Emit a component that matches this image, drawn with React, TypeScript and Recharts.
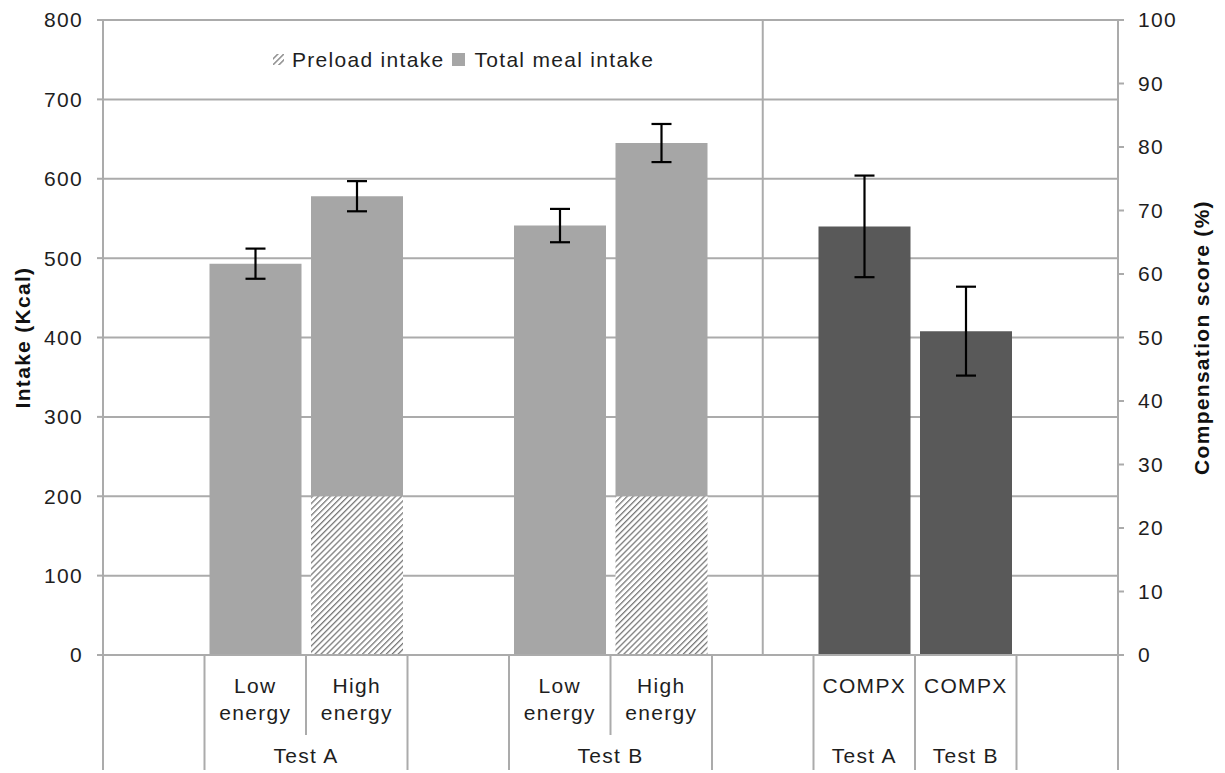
import React from 'react';
import {
  ComposedChart, Bar, XAxis, YAxis, CartesianGrid, ErrorBar, ReferenceLine, Legend,
} from 'recharts';

// ---- data ----
const categories = ['', 'Low energy', 'High energy', '', 'Low energy', 'High energy', '', 'COMPX', 'COMPX', ''];
const groups = ['', 'Test A', 'Test A', '', 'Test B', 'Test B', '', 'Test A', 'Test B', ''];
const totalIntake: (number | null)[] = [null, 493, 578, null, 541, 645, null, null, null, null];
const preloadIntake: (number | null)[] = [null, 0, 200, null, 0, 200, null, null, null, null];
const intakeErr: (number | null)[] = [null, 19, 19, null, 21, 24, null, null, null, null];
const compScore: (number | null)[] = [null, null, null, null, null, null, null, 67.5, 51, null];
const compErr: (number | null)[] = [null, null, null, null, null, null, null, 8, 7, null];
const intakeTicks = [0, 100, 200, 300, 400, 500, 600, 700, 800];
const compTicks = [0, 10, 20, 30, 40, 50, 60, 70, 80, 90, 100];
const blockDividerSlot = 6;

// ---- layout ----
const CHART_W = 1225;
const CHART_H = 773;
const LEFT_W = 103;
const RIGHT_W = 107;
const TOP = 20;
const X_H = 118;
const PLOT_W = CHART_W - LEFT_W - RIGHT_W;
const BAND = PLOT_W / categories.length;

const FONT = '"Liberation Sans", Arial, sans-serif';
const FS = 21;
const LS = 1.3;
const TEXT = '#1e1e1e';
const LINE = '#ababab';

const data = categories.map((c, i) => ({
  slot: i,
  category: c,
  group: groups[i],
  preload: preloadIntake[i],
  rest: totalIntake[i] == null ? null : (totalIntake[i] as number) - (preloadIntake[i] as number),
  intakeErr: intakeErr[i],
  comp: compScore[i],
  compErr: compErr[i],
}));

function CategoryTick(props: any) {
  const { x, y, payload } = props;
  const i: number = props.index ?? payload.index ?? payload.value;
  const left = x - BAND / 2;
  const right = x + BAND / 2;
  const shortSep = i > 0 && groups[i - 1] === groups[i] && groups[i] !== '';
  const words = categories[i] ? categories[i].split(' ') : [];
  let groupLabel: React.ReactNode = null;
  if (groups[i] && (i === 0 || groups[i - 1] !== groups[i])) {
    let n = 1;
    while (i + n < groups.length && groups[i + n] === groups[i]) n++;
    groupLabel = (
      <text x={x + ((n - 1) * BAND) / 2} y={y + 108} textAnchor="middle" fill={TEXT}
        fontSize={FS} fontFamily={FONT} letterSpacing={LS}>{groups[i]}</text>
    );
  }
  return (
    <g>
      <line x1={left} x2={left} y1={y} y2={y + (shortSep ? 80 : 115)} stroke={LINE} strokeWidth={2} />
      {i === categories.length - 1 && (
        <line x1={right} x2={right} y1={y} y2={y + 115} stroke={LINE} strokeWidth={2} />
      )}
      {words.map((w, k) => (
        <text key={k} x={x} y={y + 38 + k * 27} textAnchor="middle" fill={TEXT}
          fontSize={FS} fontFamily={FONT} letterSpacing={LS}>{w}</text>
      ))}
      {groupLabel}
    </g>
  );
}

function LegendContent() {
  return (
    <div style={{ display: 'flex', alignItems: 'center', fontFamily: FONT, fontSize: FS, letterSpacing: LS, color: TEXT, whiteSpace: 'nowrap' }}>
      <svg width={14} height={14} style={{ marginRight: 6 }}>
        <rect x={1} y={1} width={11} height={11} fill="url(#hatch)" />
      </svg>
      <span style={{ marginRight: 8 }}>Preload intake</span>
      <svg width={14} height={14} style={{ marginRight: 8 }}>
        <rect x={0} y={0} width={13} height={13} fill="#a6a6a6" />
      </svg>
      <span>Total meal intake</span>
    </div>
  );
}

function AxisTitle(props: any) {
  const { viewBox, value, dx } = props;
  const cx = viewBox.x + dx;
  const cy = viewBox.y + viewBox.height / 2;
  return (
    <text x={cx} y={cy} transform={`rotate(-90 ${cx} ${cy})`} textAnchor="middle" dominantBaseline="central"
      fill="#111" fontSize={FS} fontWeight="bold" fontFamily={FONT} letterSpacing={LS}>{value}</text>
  );
}

export default function App() {
  return (
    <div style={{ position: 'absolute', left: 0, top: 0, background: '#fff' }}>
      <ComposedChart width={CHART_W} height={CHART_H} data={data}
        margin={{ top: TOP, right: 0, left: 0, bottom: 0 }} barCategoryGap={5} barGap={0}>
        <defs>
          <pattern id="hatch" patternUnits="userSpaceOnUse" width={4.2} height={4.2} patternTransform="rotate(45)">
            <rect x={0} y={0} width={4.2} height={4.2} fill="#ffffff" />
            <line x1={0} y1={0} x2={0} y2={4.2} stroke="#7a7a7a" strokeWidth={2.6} />
          </pattern>
        </defs>
        <CartesianGrid yAxisId="left" vertical={false} stroke={LINE} strokeWidth={2} />
        <XAxis dataKey="slot" interval={0} height={X_H} tickSize={0} tickMargin={0}
          axisLine={{ stroke: LINE, strokeWidth: 2 }} tickLine={false} tick={<CategoryTick />} />
        <YAxis yAxisId="left" width={LEFT_W} domain={[0, 800]} ticks={intakeTicks} interval={0}
          tickSize={6} tickMargin={14} axisLine={{ stroke: LINE, strokeWidth: 2 }}
          tickLine={{ stroke: LINE, strokeWidth: 2 }}
          tick={{ fill: TEXT, fontSize: FS, fontFamily: FONT, letterSpacing: LS }}
          label={<AxisTitle value="Intake (Kcal)" dx={22} />} />
        <YAxis yAxisId="right" orientation="right" width={RIGHT_W} domain={[0, 100]} ticks={compTicks} interval={0}
          tickSize={6} tickMargin={14} axisLine={{ stroke: LINE, strokeWidth: 2 }}
          tickLine={{ stroke: LINE, strokeWidth: 2 }}
          tick={{ fill: TEXT, fontSize: FS, fontFamily: FONT, letterSpacing: LS }}
          label={<AxisTitle value="Compensation score (%)" dx={83} />} />
        <ReferenceLine yAxisId="left" x={blockDividerSlot} stroke={LINE} strokeWidth={2} />
        <Bar yAxisId="left" dataKey="preload" stackId="a" fill="url(#hatch)" isAnimationActive={false} />
        <Bar yAxisId="left" dataKey="rest" stackId="a" fill="#a6a6a6" isAnimationActive={false}>
          <ErrorBar dataKey="intakeErr" width={10} strokeWidth={2.2} stroke="#000" />
        </Bar>
        <Bar yAxisId="right" dataKey="comp" stackId="a" fill="#595959" isAnimationActive={false}>
          <ErrorBar dataKey="compErr" width={10} strokeWidth={2.2} stroke="#000" />
        </Bar>
        <Legend layout="vertical" align="center" verticalAlign="middle" content={<LegendContent />}
          wrapperStyle={{ left: 272, top: 48, width: 'auto' }} />
      </ComposedChart>
    </div>
  );
}
